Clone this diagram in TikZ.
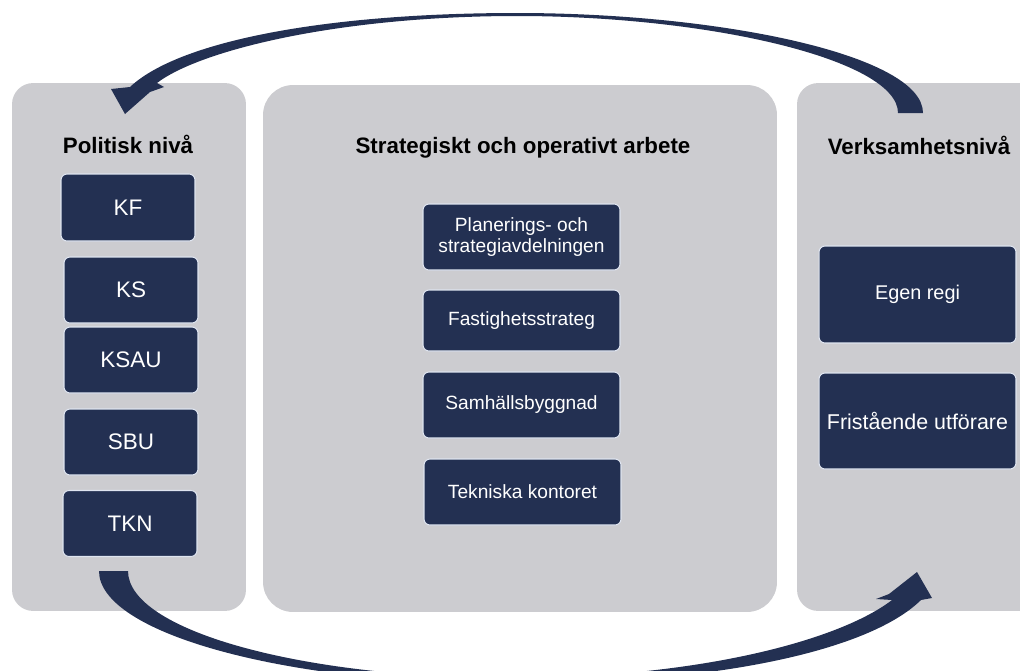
\documentclass[tikz,border=0pt]{standalone}
\usepackage{fontspec}
\setmainfont{Liberation Sans}
\definecolor{marin}{RGB}{35,48,82}
\definecolor{ljusgra}{RGB}{204,204,208}
\definecolor{kant}{RGB}{222,228,240}

\begin{document}
\begin{tikzpicture}[
      x=0.02cm, y=-0.02cm,
      yta/.style={fill=ljusgra, inner sep=0pt, minimum height=10.56cm},
      ruta/.style={fill=marin, draw=kant, line width=0.6pt, rounded corners=3.4pt, text=white, align=center, inner sep=0pt, minimum height=1.32cm},
      rubrik/.style={anchor=base, font=\fontsize{12.7}{15}\selectfont\bfseries},
      pil/.style={fill=marin, draw=none}
    ]
      \useasboundingbox (0,0) rectangle (1020,670);
      \clip (0,0) rectangle (1020,670);

      \node[yta, rounded corners=12pt, minimum width=4.68cm] (politisk) at (129,347) {};
      \node[yta, rounded corners=17pt, minimum width=10.28cm, minimum height=10.54cm] (strategi) at (520,348.5) {};
      \node[yta, rounded corners=12pt, minimum width=4.96cm] (verksamhet) at (921,347) {};

      \node[rubrik] (tpol) at (128,153) {Politisk nivå};
      \node[rubrik] (tstr) at (523,153) {Strategiskt och operativt arbete};
      \node[rubrik] (tver) at (919,154) {Verksamhetsnivå};

      \begin{scope}[font=\fontsize{12.8}{15}\selectfont]
        \node[ruta, minimum width=2.68cm, minimum height=1.34cm] (kf) at (128,207.5) {KF};
        \node[ruta, minimum width=2.68cm] (ks) at (131,290) {KS};
        \node[ruta, minimum width=2.68cm] (ksau) at (131,360) {KSAU};
        \node[ruta, minimum width=2.68cm] (sbu) at (131,442) {SBU};
        \node[ruta, minimum width=2.68cm] (tkn) at (130,523.5) {TKN};
      \end{scope}

      \begin{scope}[font=\fontsize{10.9}{12}\selectfont]
        \node[ruta, minimum width=3.94cm] (plan) at (521.5,237) {Planerings- och\\strategiavdelningen};
        \node[ruta, minimum width=3.94cm, minimum height=1.22cm] (fast) at (521.5,320.5) {Fastighetsstrateg};
        \node[ruta, minimum width=3.94cm] (samh) at (521.5,405) {Samhällsbyggnad};
        \node[ruta, minimum width=3.94cm] (tekn) at (522.5,492) {Tekniska kontoret};
      \end{scope}

      \node[ruta, minimum width=3.94cm, minimum height=1.94cm, font=\fontsize{11.3}{13}\selectfont] (egen) at (917.5,294.5) {Egen regi};
      \node[ruta, minimum width=3.94cm, minimum height=1.92cm, font=\fontsize{12.2}{14}\selectfont] (fri) at (917.5,421) {Fristående utförare};

      \fill[pil] (517,13) .. controls (330,13) and (180,40) .. (130,87) -- (111,89) -- (125,114) -- (150,92) -- (164,87) -- (157,83)
        .. controls (200,50) and (340,16) .. (517,16) .. controls (710,16) and (898,60) .. (898,113) -- (923,113)
        .. controls (923,55) and (720,13) .. (517,13) -- cycle;
      \fill[pil] (99,571) .. controls (99,633) and (284,684) .. (510,684) .. controls (720,684) and (870,650) .. (921,600)
        -- (932,598) -- (917,572) -- (889,594) -- (876,599) -- (892,600)
        .. controls (840,640) and (700,678) .. (510,678) .. controls (300,678) and (128,630) .. (128,571) -- cycle;
    \end{tikzpicture}
\end{document}
